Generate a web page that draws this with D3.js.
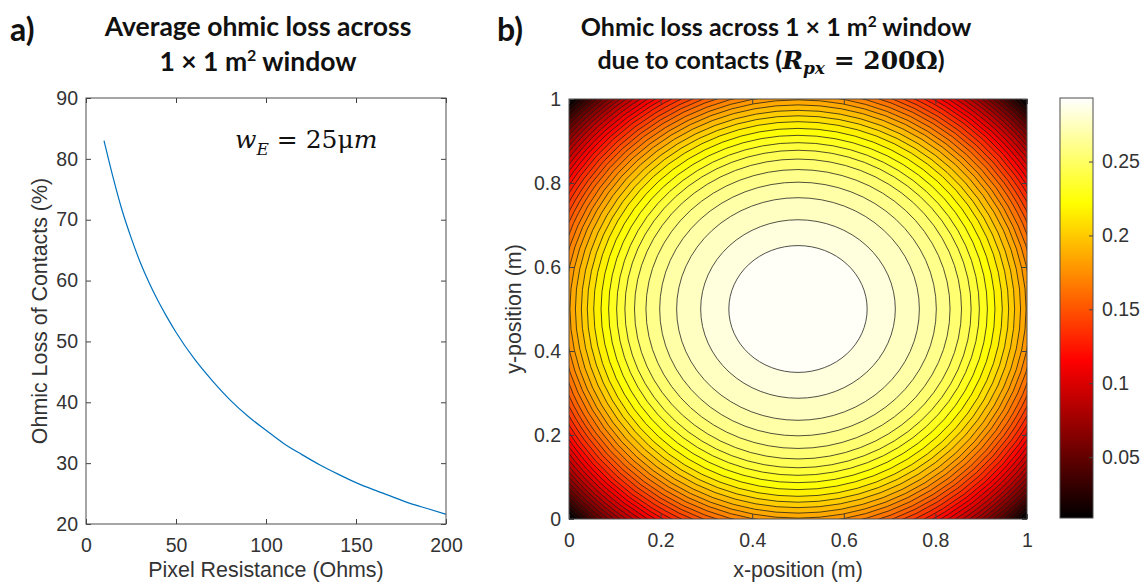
<!DOCTYPE html>
<html>
<head>
<meta charset="utf-8">
<script src="https://cdn.jsdelivr.net/npm/d3@7"></script>
<style>
  body { margin: 0; background: #fff; }
  svg { display: block; }
  .tick text { font-family: "Liberation Sans", Arial, sans-serif; font-size: 19.5px; fill: #333; }
  .tick line { stroke: #404040; }
  .axis-label { font-family: "Liberation Sans", Arial, sans-serif; font-size: 21.4px; fill: #333; }
  .title { font-family: Lato, "Open Sans", sans-serif; font-weight: bold; fill: #111; }
  .math { font-family: "DejaVu Serif", "Liberation Serif", serif; }
</style>
</head>
<body>
<svg id="chart" width="1140" height="583"></svg>
<script>
////////////////////////////////////////////////////////////////////////////////
// Data
////////////////////////////////////////////////////////////////////////////////

// a) average ohmic loss vs pixel resistance
const resistance = [10, 15, 20, 25, 30, 35, 40, 45, 50, 60, 70, 80, 90, 100,
                    110, 120, 130, 140, 150, 160, 170, 180, 190, 200];
const ohmicLoss = [83.0, 77.0, 71.6, 67.1, 63.1, 59.7, 56.7, 54.0, 51.5, 47.2, 43.6, 40.4, 37.7, 35.4,
                   33.2, 31.4, 29.7, 28.2, 26.8, 25.6, 24.5, 23.4, 22.5, 21.6];
const xTicksA = [0, 50, 100, 150, 200];
const yTicksA = [20, 30, 40, 50, 60, 70, 80, 90];

// b) contour levels (loss) and radius of each level's circle around the window centre (m)
const contourLevels = [0.291, 0.2835, 0.276, 0.2685, 0.261, 0.2535, 0.246, 0.2385, 0.231, 0.2235,
                       0.216, 0.2085, 0.201, 0.1935, 0.186, 0.1785, 0.171, 0.1635, 0.156, 0.1485,
                       0.141, 0.1335, 0.126, 0.1185, 0.111, 0.1035, 0.096, 0.0885, 0.081, 0.0735,
                       0.066, 0.0585, 0.051, 0.0435, 0.036, 0.0285, 0.021, 0.0135];
const contourRadii = [0.151, 0.2125, 0.265, 0.302, 0.332, 0.357, 0.378, 0.396, 0.4135, 0.430,
                      0.446, 0.460, 0.473, 0.486, 0.498, 0.509, 0.520, 0.531, 0.541, 0.551,
                      0.561, 0.571, 0.580, 0.589, 0.598, 0.607, 0.616, 0.625, 0.633, 0.641,
                      0.649, 0.657, 0.665, 0.672, 0.679, 0.686, 0.693, 0.700];
const windowCentre = [0.5, 0.5];
const colorRange = [0.0088, 0.293];
const posTicks = [0, 0.2, 0.4, 0.6, 0.8, 1];
const colorbarTicks = [0.05, 0.1, 0.15, 0.2, 0.25];

////////////////////////////////////////////////////////////////////////////////

const svg = d3.select("#chart");
const tickLen = 5;

// MATLAB "hot" colormap
function hot(t) {
  t = Math.max(0, Math.min(1, t));
  const r = Math.min(1, t / 0.375);
  const g = Math.max(0, Math.min(1, (t - 0.375) / 0.375));
  const b = Math.max(0, Math.min(1, (t - 0.75) / 0.25));
  return d3.rgb(r * 255, g * 255, b * 255).toString();
}

function boxAxes(g, x, y, w, h, xTicks, yTicks, xFmt, yFmt) {
  g.append("g")
    .attr("transform", `translate(0,${h})`)
    .call(d3.axisBottom(x).tickValues(xTicks).tickSize(-tickLen).tickPadding(14).tickFormat(xFmt))
    .call(a => a.select(".domain").remove());
  g.append("g")
    .call(d3.axisTop(x).tickValues(xTicks).tickSize(-tickLen).tickFormat(""))
    .call(a => a.select(".domain").remove());
  g.append("g")
    .call(d3.axisLeft(y).tickValues(yTicks).tickSize(-tickLen).tickPadding(8).tickFormat(yFmt))
    .call(a => a.select(".domain").remove());
  g.append("g")
    .attr("transform", `translate(${w},0)`)
    .call(d3.axisRight(y).tickValues(yTicks).tickSize(-tickLen).tickFormat(""))
    .call(a => a.select(".domain").remove());
  g.append("rect")
    .attr("width", w).attr("height", h)
    .attr("fill", "none").attr("stroke", "#4d4d4d").attr("stroke-width", 1);
}

////////////////////////////////////////////////////////////////////////////////
// a) line chart
////////////////////////////////////////////////////////////////////////////////
const plotA = { left: 86, top: 98, width: 360, height: 426 };
const xA = d3.scaleLinear().domain([0, 200]).range([0, plotA.width]);
const yA = d3.scaleLinear().domain([20, 90]).range([plotA.height, 0]);

const gA = svg.append("g").attr("transform", `translate(${plotA.left},${plotA.top})`);

gA.append("path")
  .datum(d3.zip(resistance, ohmicLoss))
  .attr("fill", "none")
  .attr("stroke", "#0072BD")
  .attr("stroke-width", 1.2)
  .attr("d", d3.line()
    .curve(d3.curveMonotoneX)
    .x(d => xA(d[0]))
    .y(d => yA(d[1])));

boxAxes(gA, xA, yA, plotA.width, plotA.height, xTicksA, yTicksA, d3.format("d"), d3.format("d"));

// annotation w_E = 25um
const wE = gA.append("text").attr("class", "math").attr("x", 149).attr("y", 50).style("font-size", "25px").attr("fill", "#111");
wE.append("tspan").style("font-style", "italic").text("w");
wE.append("tspan").style("font-style", "italic").style("font-size", "17px").attr("dy", 7).text("E");
wE.append("tspan").attr("dy", -7).text(" = 25μ");
wE.append("tspan").style("font-style", "italic").text("m");

// axis labels
svg.append("text").attr("class", "axis-label")
  .attr("x", plotA.left + plotA.width / 2).attr("y", 577)
  .attr("text-anchor", "middle")
  .text("Pixel Resistance (Ohms)");
svg.append("text").attr("class", "axis-label")
  .attr("transform", `translate(47,${plotA.top + plotA.height / 2}) rotate(-90)`)
  .attr("text-anchor", "middle")
  .text("Ohmic Loss of Contacts (%)");

// title
svg.append("text").attr("class", "title").attr("x", 10).attr("y", 41).style("font-size", "32px").text("a)");
svg.append("text").attr("class", "title").attr("text-anchor", "middle").style("font-size", "26.5px")
  .attr("x", 258).attr("y", 36)
  .text("Average ohmic loss across");
const tA2 = svg.append("text").attr("class", "title").attr("text-anchor", "middle").style("font-size", "26.5px")
  .attr("x", 258).attr("y", 71);
tA2.append("tspan").text("1 × 1 m");
tA2.append("tspan").attr("dy", -10).style("font-size", "16px").text("2");
tA2.append("tspan").attr("dy", 10).text(" window");

////////////////////////////////////////////////////////////////////////////////
// b) filled contour map
////////////////////////////////////////////////////////////////////////////////
const plotB = { left: 569, top: 99, width: 458, height: 420 };
const xB = d3.scaleLinear().domain([0, 1]).range([0, plotB.width]);
const yB = d3.scaleLinear().domain([0, 1]).range([plotB.height, 0]);
const colorT = d3.scaleLinear().domain(colorRange).range([0, 1]);

const gB = svg.append("g").attr("transform", `translate(${plotB.left},${plotB.top})`);

svg.append("defs").append("clipPath").attr("id", "clipB")
  .append("rect").attr("width", plotB.width).attr("height", plotB.height);

const mapB = gB.append("g").attr("clip-path", "url(#clipB)");

// region below the lowest level
mapB.append("rect")
  .attr("width", plotB.width).attr("height", plotB.height)
  .attr("fill", hot(colorT(colorRange[0])));

// bands, outermost first; each band is filled with its lower level's colour
const bands = d3.zip(contourLevels, contourRadii).sort((a, b) => b[1] - a[1]);
mapB.selectAll("ellipse.band")
  .data(bands)
  .join("ellipse")
    .attr("class", "band")
    .attr("cx", xB(windowCentre[0]))
    .attr("cy", yB(windowCentre[1]))
    .attr("rx", d => xB(d[1]) - xB(0))
    .attr("ry", d => yB(0) - yB(d[1]))
    .attr("fill", d => hot(colorT(d[0])))
    .attr("stroke", "#1a1a1a")
    .attr("stroke-opacity", 0.85)
    .attr("stroke-width", 0.9);

boxAxes(gB, xB, yB, plotB.width, plotB.height, posTicks, posTicks, d3.format("~g"), d3.format("~g"));

svg.append("text").attr("class", "axis-label")
  .attr("x", plotB.left + plotB.width / 2).attr("y", 577)
  .attr("text-anchor", "middle")
  .text("x-position (m)");
svg.append("text").attr("class", "axis-label")
  .attr("transform", `translate(521,${plotB.top + plotB.height / 2}) rotate(-90)`)
  .attr("text-anchor", "middle")
  .text("y-position (m)");

// colorbar
const cb = { left: 1060, top: 98, width: 33, height: 420 };
const cbScale = d3.scaleLinear().domain(colorRange).range([cb.height, 0]);
const grad = svg.select("defs").append("linearGradient")
  .attr("id", "hotGrad").attr("x1", 0).attr("y1", 1).attr("x2", 0).attr("y2", 0);
grad.selectAll("stop")
  .data(d3.range(0, 1.0001, 0.025))
  .join("stop")
    .attr("offset", d => d)
    .attr("stop-color", d => hot(d));

const gC = svg.append("g").attr("transform", `translate(${cb.left},${cb.top})`);
gC.append("rect").attr("width", cb.width).attr("height", cb.height).attr("fill", "url(#hotGrad)");
gC.append("g")
  .attr("transform", `translate(${cb.width},0)`)
  .call(d3.axisRight(cbScale).tickValues(colorbarTicks).tickSize(-4).tickPadding(9).tickFormat(d3.format("~g")))
  .call(a => a.select(".domain").remove());
gC.append("rect").attr("width", cb.width).attr("height", cb.height)
  .attr("fill", "none").attr("stroke", "#4d4d4d").attr("stroke-width", 1);

// title
svg.append("text").attr("class", "title").attr("x", 497).attr("y", 41).style("font-size", "32px").text("b)");
const tB = svg.append("text").attr("class", "title").attr("text-anchor", "middle").style("font-size", "25px")
  .attr("x", 776).attr("y", 36);
tB.append("tspan").text("Ohmic loss across 1 × 1 m");
tB.append("tspan").attr("dy", -9).style("font-size", "15.5px").text("2");
tB.append("tspan").attr("dy", 9).text(" window");
const tB2 = svg.append("text").attr("class", "title").attr("text-anchor", "middle").style("font-size", "25px")
  .attr("x", 771).attr("y", 69);
tB2.append("tspan").text("due to contacts (");
tB2.append("tspan").attr("class", "math").style("font-style", "italic").text("R");
tB2.append("tspan").attr("class", "math").style("font-style", "italic").style("font-size", "17px").attr("dy", 5).text("px");
tB2.append("tspan").attr("class", "math").attr("dy", -5).text(" = 200Ω");
tB2.append("tspan").text(")");
</script>
</body>
</html>
